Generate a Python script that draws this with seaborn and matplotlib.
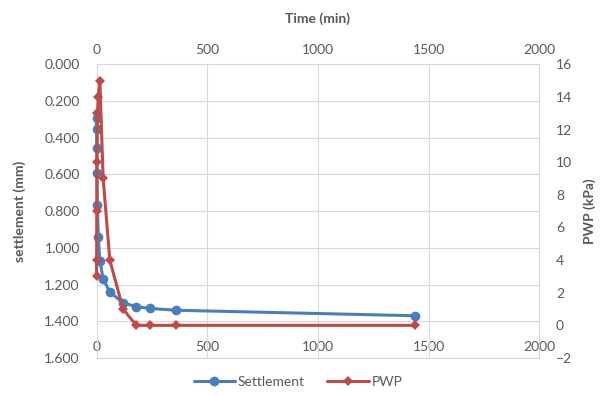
import matplotlib
matplotlib.use("Agg")
import matplotlib.pyplot as plt
import seaborn as sns

# Consolidation readings: elapsed time, settlement and pore water pressure
time_min = [0, 0.5, 1, 2, 4, 8, 15, 30, 60, 120, 180, 240, 360, 1440]
settlement_mm = [0.29, 0.355, 0.455, 0.59, 0.765, 0.94, 1.07,
                 1.17, 1.24, 1.30, 1.32, 1.33, 1.34, 1.37]
pwp_kpa = [3, 4, 7, 10, 13, 14, 15, 9, 4, 1, 0, 0, 0, 0]

time_ticks = [0, 500, 1000, 1500, 2000]
settlement_ticks = [0.0, 0.2, 0.4, 0.6, 0.8, 1.0, 1.2, 1.4, 1.6]
pwp_ticks = [-2, 0, 2, 4, 6, 8, 10, 12, 14, 16]

BLUE = "#4A7EBB"
RED = "#BE4B48"
GRID = "#D9D9D9"
TEXT = "#595959"
FS = 10

sns.set_theme(style="white")
plt.rcParams["font.family"] = ["Lato", "DejaVu Sans"]

fig = plt.figure(figsize=(6.12, 3.96), dpi=100)
ax = fig.add_axes([0.1577, 0.0960, 0.7235, 0.7417])

# Settlement on the primary axes (depth grows downward)
sns.lineplot(x=time_min, y=settlement_mm, ax=ax, color=BLUE, marker="o",
             markersize=7, markeredgewidth=0, linewidth=2.2, sort=False,
             estimator=None, legend=False, clip_on=False)
ax.set_xlim(0, 2000)
ax.set_ylim(1.6, 0.0)
ax.set_xticks(time_ticks)
ax.set_yticks(settlement_ticks)
ax.set_yticklabels([f"{v:.3f}" for v in settlement_ticks])
ax.xaxis.tick_top()
ax.xaxis.set_label_position("top")
ax.set_xlabel("Time (min)", fontsize=FS, fontweight="bold", color=TEXT, labelpad=15)
ax.set_ylabel("settlement (mm)", fontsize=FS, fontweight="bold", color=TEXT, labelpad=13)
ax.tick_params(axis="x", length=0, pad=6, labelsize=FS, labelcolor=TEXT)
ax.tick_params(axis="y", length=0, pad=12, labelsize=FS, labelcolor=TEXT)
ax.grid(True, color=GRID, linewidth=0.8)
for s in ax.spines.values():
    s.set_color(GRID)
    s.set_linewidth(0.8)

# Time labels repeated along the bottom, inside the plot area
sec = ax.secondary_xaxis("bottom")
sec.set_xticks(time_ticks)
sec.tick_params(length=0, pad=-12.5, labelsize=FS, labelcolor=TEXT)
sec.spines["bottom"].set_visible(False)

# Pore water pressure on a secondary y axis
ax2 = ax.twinx()
sns.lineplot(x=time_min, y=pwp_kpa, ax=ax2, color=RED, marker="D",
             markersize=5.6, markeredgewidth=0, linewidth=2.2, sort=False,
             estimator=None, legend=False, clip_on=False)
ax2.set_ylim(-2, 16)
ax2.set_yticks(pwp_ticks)
ax2.set_ylabel("PWP (kPa)", fontsize=FS, fontweight="bold", color=TEXT, labelpad=8)
ax2.tick_params(axis="y", length=0, pad=12, labelsize=FS, labelcolor=TEXT)
ax2.grid(False)
for s in ax2.spines.values():
    s.set_visible(False)

handles = [ax.lines[0], ax2.lines[0]]
leg = fig.legend(handles, ["Settlement", "PWP"], loc="center",
                 bbox_to_anchor=(0.487, 1 - 382 / 396), ncol=2, frameon=False,
                 handlelength=3.0, columnspacing=1.6, handletextpad=0.2,
                 fontsize=FS)
for t in leg.get_texts():
    t.set_color(TEXT)

fig.savefig("out.png", dpi=100)
